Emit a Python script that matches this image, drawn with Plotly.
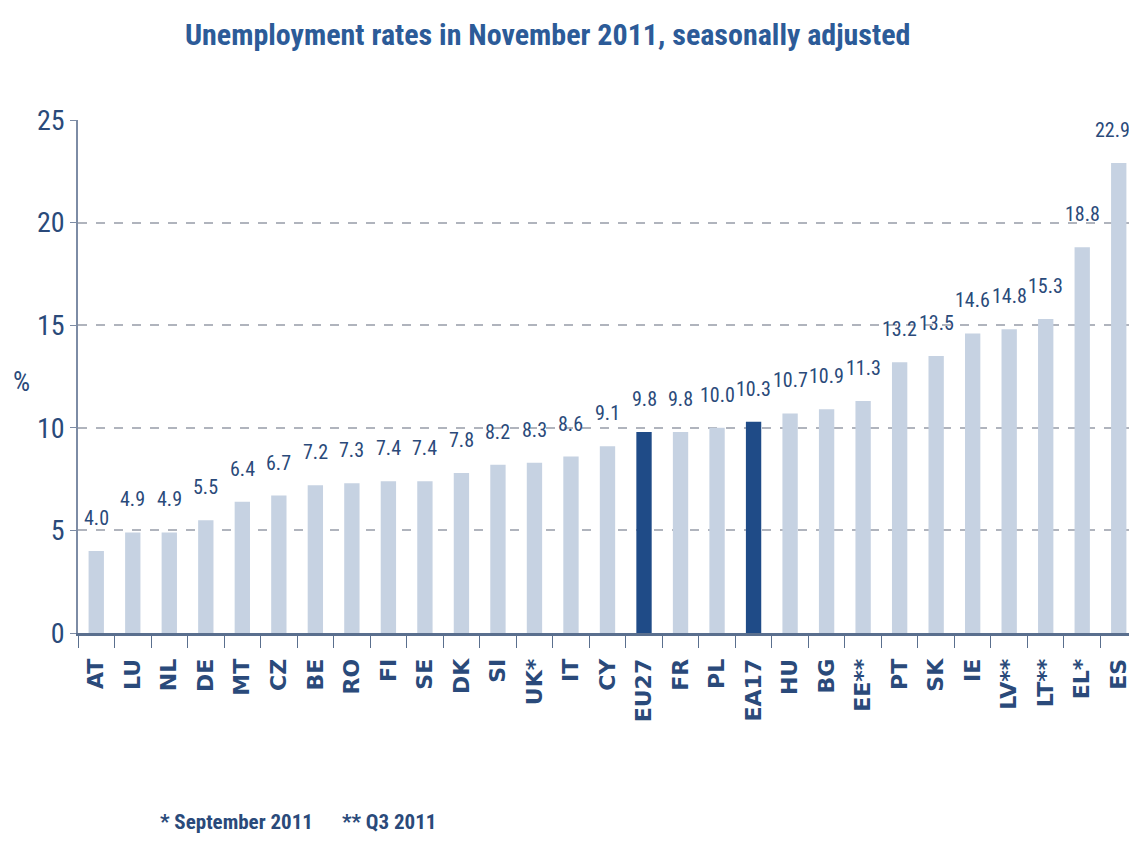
import plotly.graph_objects as go

categories = ["AT", "LU", "NL", "DE", "MT", "CZ", "BE", "RO", "FI", "SE", "DK", "SI", "UK*", "IT", "CY",
              "EU27", "FR", "PL", "EA17", "HU", "BG", "EE**", "PT", "SK", "IE", "LV**", "LT**", "EL*", "ES"]
values = [4.0, 4.9, 4.9, 5.5, 6.4, 6.7, 7.2, 7.3, 7.4, 7.4, 7.8, 8.2, 8.3, 8.6, 9.1,
          9.8, 9.8, 10.0, 10.3, 10.7, 10.9, 11.3, 13.2, 13.5, 14.6, 14.8, 15.3, 18.8, 22.9]
highlight = ["EU27", "EA17"]

light = "#c6d2e2"
dark = "#1f4b87"
txt = "#2a4a7a"
colors = [dark if c in highlight else light for c in categories]

fnt = "Roboto Condensed, Liberation Sans Narrow, sans-serif"

fig = go.Figure(go.Bar(
    x=categories, y=values, marker_color=colors, marker_line_width=0,
    hoverinfo="x+y",
))

for i, (c, v) in enumerate(zip(categories, values)):
    fig.add_annotation(x=c, y=v, text=f"{v:.1f}", showarrow=False, yanchor="bottom",
                       yshift=20, xshift=(-6 if i == len(categories) - 1 else 0), borderpad=0,
                       font=dict(family=fnt, size=20, color=txt))

fig.update_layout(
    width=1129, height=839,
    margin=dict(l=70, r=0, t=112, b=214),
    plot_bgcolor="white", paper_bgcolor="white",
    bargap=0.58, showlegend=False,
    title=dict(text="<b>Unemployment rates in November 2011, seasonally adjusted</b>",
               x=0.478, xanchor="center", y=0.968, yanchor="middle",
               font=dict(family=fnt, size=30, color="#2c5b98")),
)
fig.add_annotation(text="%", xref="paper", yref="paper", x=-0.053, y=0.489, showarrow=False,
                   font=dict(family=fnt, size=27, color=txt), xanchor="center")
fig.add_annotation(text="<b>* September 2011      ** Q3 2011</b>", xref="paper", yref="paper",
                   x=0.076, y=-0.368, xanchor="left", yanchor="middle", showarrow=False,
                   font=dict(family=fnt, size=21, color=txt))

fig.update_yaxes(range=[0, 25], dtick=5, showgrid=True, gridcolor="#b0b4bd", griddash="dash",
                 gridwidth=1.5, showline=True, linecolor="#7d8ca5", linewidth=1.5,
                 ticks="outside", ticklen=6, tickcolor="#7d8ca5", automargin=False,
                 tickfont=dict(family=fnt, size=28, color=txt), zeroline=False)
fig.update_xaxes(showline=True, linecolor="#5a6f8e", linewidth=3, automargin=False,
                 ticks="outside", tickson="boundaries", ticklen=12, tickcolor="#5a6f8e",
                 ticklabelstandoff=14,
                 tickangle=-90, tickfont=dict(family="DejaVu Sans, Liberation Sans, sans-serif", size=22, color=txt),
                 tickprefix="<b>", ticksuffix="</b>")

fig.write_html("out.html")
